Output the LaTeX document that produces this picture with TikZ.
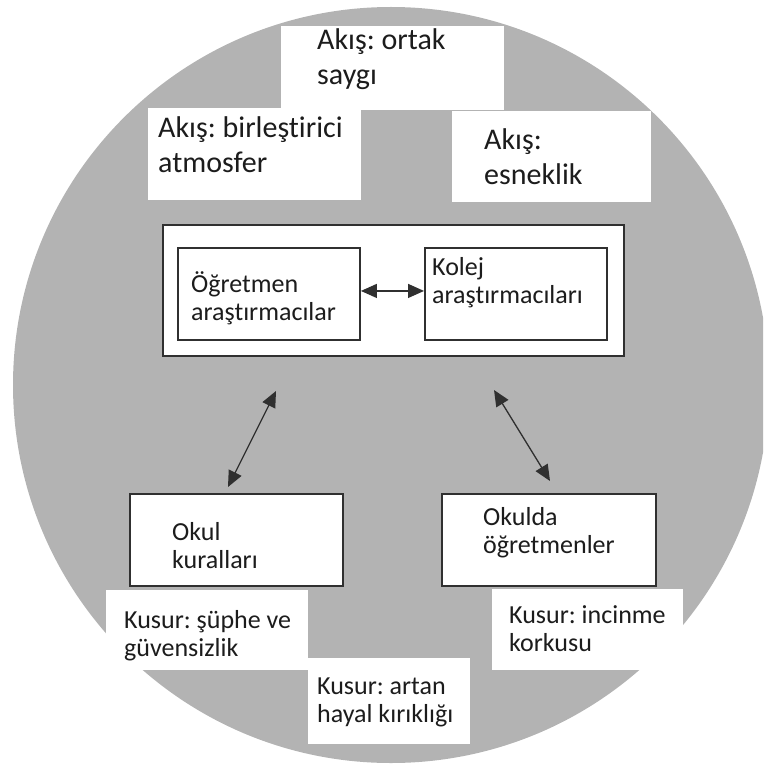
\documentclass[tikz,border=0pt]{standalone}
\usepackage{fontspec}
\setmainfont[Ligatures=NoCommon]{Carlito}
\usetikzlibrary{arrows.meta}
\definecolor{disc}{RGB}{179,179,179}
\definecolor{ink}{RGB}{28,28,28}
\definecolor{rule}{RGB}{48,48,48}
\frenchspacing

\begin{document}
\begin{tikzpicture}[x=1pt,y=-1pt,
  card/.style={fill=white, draw=none, inner sep=0pt, anchor=north west},
  framed/.style={fill=white, draw=rule, line width=1.9pt, inner sep=0pt, anchor=north west},
  big/.style={anchor=base west, inner sep=0pt, align=left, text=ink, font=\fontsize{30}{35}\selectfont},
  small/.style={anchor=base west, inner sep=0pt, align=left, text=ink, font=\fontsize{26}{27.5}\selectfont},
  link/.style={draw=rule, line width=1.3pt,
    {Triangle[length=16pt,width=14pt]}-{Triangle[length=16pt,width=14pt]}}]

\useasboundingbox (0,0) rectangle (763,767);

% grey disc behind everything
\begin{scope}
  \clip (0,0) rectangle (763,767);
  \fill[disc] (391,385) circle[radius=378];
\end{scope}

% white "flow" cards
\node[card, minimum width=223pt, minimum height=84pt] (topcard) at (281,26) {};
\node[card, minimum width=213pt, minimum height=92pt] (leftcard) at (148,108) {};
\node[card, minimum width=199pt, minimum height=91pt] (rightcard) at (452,111) {};

% central frame with the two researcher groups
\node[framed, line width=2.3pt, minimum width=461pt, minimum height=131pt] (frame) at (162,224) {};
\node[framed, minimum width=182pt, minimum height=92pt] (ogr) at (177,247) {};
\node[framed, minimum width=182pt, minimum height=92pt] (kol) at (424,247) {};

% school boxes
\node[framed, minimum width=213pt, minimum height=92pt] (okul) at (129,493) {};
\node[framed, minimum width=214pt, minimum height=92pt] (okulda) at (441,493) {};

% white "flaw" cards
\node[card, minimum width=202pt, minimum height=80pt] (flaw1) at (106,590) {};
\node[card, minimum width=162pt, minimum height=86pt] (flaw2) at (308,658) {};
\node[card, minimum width=191pt, minimum height=81pt] (flaw3) at (492,589) {};

% connectors
\draw[link] ([yshift=3pt]ogr.east) -- ([yshift=3pt]kol.west);
\coordinate (lu) at (276,391);
\coordinate (ld) at (228,487);
\coordinate (ru) at (494,390);
\coordinate (rd) at (550,481);
\draw[link] (lu) -- (ld);
\draw[link] (ru) -- (rd);

% labels (anchored on the baseline of their last line)
\node[big] (t1) at (317,85) {Akış: ortak\\saygı};
\node[big] (t2) at (158,173) {Akış: birleştirici\\atmosfer};
\node[big] (t3) at (484,185) {Akış:\\esneklik};
\node[small] (t4) at (191,320) {Öğretmen\\araştırmacılar};
\node[small] (t5) at (432,303) {Kolej\\araştırmacıları};
\node[small] (t6) at (172,568) {Okul\\kuralları};
\node[small] (t7) at (483,553) {Okulda\\öğretmenler};
\node[small] (t8) at (124,656) {Kusur: şüphe ve\\güvensizlik};
\node[small] (t9) at (317,722) {Kusur: artan\\hayal kırıklığı};
\node[small] (t10) at (509,651) {Kusur: incinme\\korkusu};
\end{tikzpicture}
\end{document}
